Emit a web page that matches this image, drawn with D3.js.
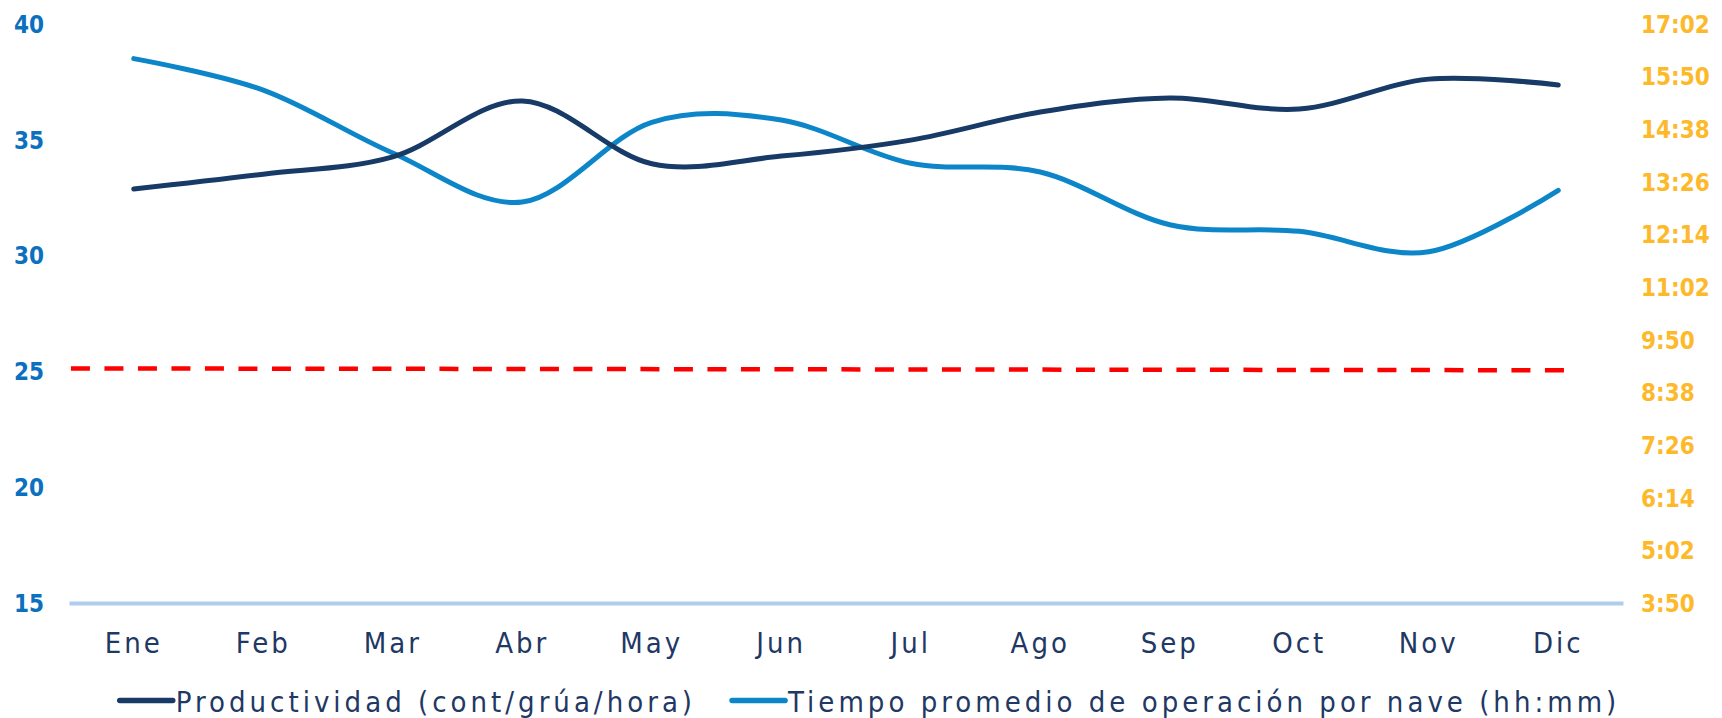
<!DOCTYPE html>
<html>
<head>
<meta charset="utf-8">
<script src="https://cdn.jsdelivr.net/npm/d3@7"></script>
<style>
    body { margin: 0; background: #ffffff; }
    svg text { font-family: "DejaVu Sans Condensed", "DejaVu Sans", sans-serif; font-stretch: condensed; }
</style>
</head>
<body>
<div id="chart"></div>
<script>
// data
const months = ['Ene', 'Feb', 'Mar', 'Abr', 'May', 'Jun', 'Jul', 'Ago', 'Sep', 'Oct', 'Nov', 'Dic'];
const productividad = [32.86, 33.5, 34.25, 36.66, 33.95, 34.28, 34.97, 36.18, 36.79, 36.31, 37.6, 37.35];
const tiempo = ['16:14', '15:31', '14:05', '12:58', '14:47', '14:50', '13:51', '13:39', '12:27', '12:18', '11:50', '13:14'];
const leftTicks = [15, 20, 25, 30, 35, 40];
const rightTicks = ['3:50', '5:02', '6:14', '7:26', '8:38', '9:50', '11:02', '12:14', '13:26', '14:38', '15:50', '17:02'];
// dashed target line (month index, value)
const metaX = [-0.485, 11.075];
const metaV = [25.12, 25.04];
const legendNames = ['Productividad (cont/grúa/hora)', 'Tiempo promedio de operación por nave (hh:mm)'];

const toMin = s => { let p = s.split(':'); return +p[0] * 60 + +p[1]; };

const width = 1722, height = 718;
const margin = {top: 23.5, left: 69, right: 99, bottom: 115};
const colors = {dark: '#173a66', light: '#0c86c9', base: '#b0cdef', red: '#ff0000', leftTick: '#0b70be', rightTick: '#fdb92a', label: '#1f3864'};

const svg = d3.select('#chart').append('svg')
    .attr('width', width)
    .attr('height', height);

// scales
const x = d3.scaleBand()
    .domain(months)
    .range([margin.left, width - margin.right]);

const xi = d3.scaleLinear()
    .domain([-0.5, months.length - 0.5])
    .range([margin.left, width - margin.right]);

const yLeft = d3.scaleLinear()
    .domain([15, 40])
    .range([height - margin.bottom, margin.top]);

const yRight = d3.scaleLinear()
    .domain([toMin(rightTicks[0]), toMin(rightTicks[rightTicks.length - 1])])
    .range([height - margin.bottom, margin.top]);

// left axis
const leftAxis = svg.append('g')
    .attr('transform', 'translate(44,0)')
    .call(d3.axisLeft(yLeft).tickValues(leftTicks).tickSize(0).tickPadding(0));
leftAxis.select('.domain').remove();
leftAxis.selectAll('text')
    .attr('dy', '0.36em')
    .style('font-size', '24px')
    .style('font-weight', 'bold')
    .style('fill', colors.leftTick);

// right axis
const rightAxis = svg.append('g')
    .attr('transform', 'translate(1641,0)')
    .call(d3.axisRight(yRight).tickValues(rightTicks.map(toMin)).tickSize(0).tickPadding(0)
        .tickFormat((d, i) => rightTicks[i]));
rightAxis.select('.domain').remove();
rightAxis.selectAll('text')
    .attr('dy', '0.36em')
    .style('font-size', '24px')
    .style('font-weight', 'bold')
    .style('fill', colors.rightTick);

// x axis (baseline + month labels)
const xAxis = svg.append('g')
    .attr('transform', `translate(0, ${height - margin.bottom})`)
    .call(d3.axisBottom(x).tickSize(0).tickSizeOuter(0));
xAxis.select('.domain')
    .attr('stroke', colors.base)
    .attr('stroke-width', 4);
xAxis.selectAll('text')
    .attr('y', 50)
    .attr('dy', 0)
    .style('font-size', '29px')
    .style('letter-spacing', '3px')
    .style('fill', colors.label);

// target line
svg.append('path')
    .datum(metaX.map((m, i) => [m, metaV[i]]))
    .attr('d', d3.line().x(d => xi(d[0])).y(d => yLeft(d[1])))
    .attr('fill', 'none')
    .attr('stroke', colors.red)
    .attr('stroke-width', 4.5)
    .attr('stroke-dasharray', '19,14.5');

// series
const curve = d3.curveCardinal.tension(0);

svg.append('path')
    .datum(tiempo)
    .attr('d', d3.line().curve(curve)
        .x((d, i) => x(months[i]) + x.bandwidth() / 2)
        .y(d => yRight(toMin(d))))
    .attr('fill', 'none')
    .attr('stroke', colors.light)
    .attr('stroke-width', 5)
    .attr('stroke-linecap', 'round');

svg.append('path')
    .datum(productividad)
    .attr('d', d3.line().curve(curve)
        .x((d, i) => x(months[i]) + x.bandwidth() / 2)
        .y(d => yLeft(d)))
    .attr('fill', 'none')
    .attr('stroke', colors.dark)
    .attr('stroke-width', 5)
    .attr('stroke-linecap', 'round');

// legend
const legend = svg.append('g');
const legendColors = [colors.dark, colors.light];
let lx = 0;
legendNames.forEach((name, i) => {
    let item = legend.append('g').attr('transform', `translate(${lx},0)`);
    item.append('line')
        .attr('x1', 0).attr('x2', 53)
        .attr('y1', 0).attr('y2', 0)
        .attr('stroke', legendColors[i])
        .attr('stroke-width', 5.5)
        .attr('stroke-linecap', 'round');
    let t = item.append('text')
        .attr('x', 56)
        .attr('y', 11)
        .style('font-size', '29px')
        .style('letter-spacing', '4px')
        .style('fill', colors.label)
        .text(name);
    lx += 56 + t.node().getComputedTextLength() + 36;
});
const legendWidth = lx - 36;
legend.attr('transform', `translate(${870 - legendWidth / 2}, 700.5)`);
</script>
</body>
</html>
